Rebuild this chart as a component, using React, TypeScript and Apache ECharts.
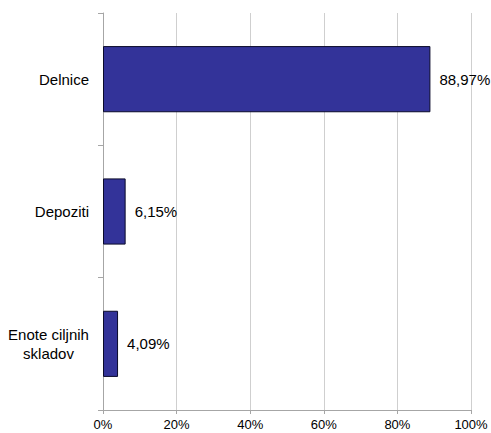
import React, { useEffect, useRef } from "react";
import * as echarts from "echarts";

const categories: string[] = ["Delnice", "Depoziti", "Enote ciljnih\nskladov"];
const shares: number[] = [88.97, 6.15, 4.09];
const xTicks = { min: 0, max: 100, interval: 20 };

const FONT = "'Liberation Sans', Arial, Helvetica, sans-serif";

export default function App() {
  const ref = useRef<HTMLDivElement>(null);
  useEffect(() => {
    if (!ref.current) return;
    const chart = echarts.init(ref.current, null, { renderer: "svg" });
    chart.setOption({
      animation: false,
      backgroundColor: "#ffffff",
      textStyle: { fontFamily: FONT },
      grid: { left: 103, right: 20, top: 13, bottom: 23, containLabel: false, outerBoundsMode: "none" },
      xAxis: {
        type: "value",
        min: xTicks.min,
        max: xTicks.max,
        interval: xTicks.interval,
        axisLine: { show: true, lineStyle: { color: "#a6a6a6", width: 1 } },
        axisTick: { show: true, length: 4, lineStyle: { color: "#a6a6a6" } },
        axisLabel: {
          formatter: "{value}%",
          fontSize: 13,
          color: "#000",
          fontFamily: FONT,
          margin: 8,
        },
        splitLine: { show: true, lineStyle: { color: "#cfcfcf", width: 1 } },
      },
      yAxis: {
        type: "category",
        inverse: true,
        data: categories,
        axisLine: { show: true, lineStyle: { color: "#a6a6a6", width: 1 } },
        axisTick: { show: true, length: 5, alignWithLabel: false, lineStyle: { color: "#a6a6a6" } },
        axisLabel: {
          margin: 14,
          fontSize: 15,
          color: "#000",
          fontFamily: FONT,
          lineHeight: 19,
          formatter: (v: string) =>
            v.includes("\n")
              ? v
                  .split("\n")
                  .map((l) => `{c|${l}}`)
                  .join("\n")
              : v,
          rich: {
            c: { width: 81, align: "center", fontSize: 15, fontFamily: FONT, color: "#000", lineHeight: 19 },
          },
        },
        splitLine: { show: false },
      },
      series: [
        {
          type: "bar",
          data: shares,
          barWidth: "50%",
          itemStyle: { color: "#333399", borderColor: "#0a0a2a", borderWidth: 1 },
          label: {
            show: true,
            position: "right",
            distance: 9,
            fontSize: 15,
            color: "#000",
            fontFamily: FONT,
            formatter: (p: any) => p.value.toFixed(2).replace(".", ",") + "%",
          },
        },
      ],
    });
    return () => chart.dispose();
  }, []);
  return (
    <div
      ref={ref}
      style={{ position: "fixed", left: 0, top: 0, width: 491, height: 433 }}
    />
  );
}
